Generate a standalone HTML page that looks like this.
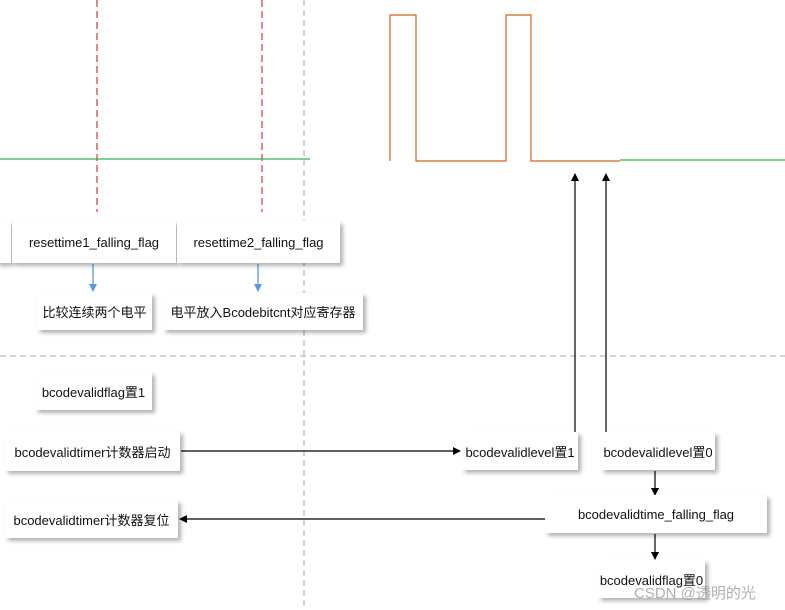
<!DOCTYPE html>
<html><head><meta charset="utf-8"><style>
body{margin:0;width:785px;height:610px;background:#fff;position:relative;overflow:hidden;font-family:"Liberation Sans","Noto Sans CJK SC",sans-serif;}
.b{position:absolute;background:#fff;box-shadow:3px 3px 4px rgba(0,0,0,0.3);font-size:13px;color:#111;display:flex;align-items:center;justify-content:center;white-space:nowrap;}
svg{position:absolute;left:0;top:0}
</style></head><body>
<svg width="785" height="610">
<defs>
<marker id="k" markerWidth="8" markerHeight="8" refX="7" refY="4" orient="auto" markerUnits="userSpaceOnUse"><path d="M0,0L8,4L0,8z" fill="#000"/></marker>
<marker id="bl" markerWidth="8" markerHeight="8" refX="7" refY="4" orient="auto" markerUnits="userSpaceOnUse"><path d="M0,0L8,4L0,8z" fill="#5b9bd5"/></marker>
</defs>
<line x1="97" y1="0" x2="97" y2="212" stroke="#e0404a" stroke-width="1.3" stroke-dasharray="7,4"/>
<line x1="262" y1="0" x2="262" y2="212" stroke="#e0404a" stroke-width="1.3" stroke-dasharray="7,4"/>
<line x1="304" y1="0" x2="304" y2="610" stroke="#aaa" stroke-width="1" stroke-dasharray="6,4"/>
<line x1="0" y1="356" x2="785" y2="356" stroke="#aaa" stroke-width="1" stroke-dasharray="6,4"/>
<line x1="0" y1="159" x2="310" y2="159" stroke="#2db84d" stroke-width="1.2"/>
<line x1="620" y1="160" x2="785" y2="160" stroke="#2db84d" stroke-width="1.2"/>
<path d="M390,161V15H416V161H506V15H531V161H620" fill="none" stroke="#d0651a" stroke-width="1.2"/>
<line x1="575" y1="432" x2="575" y2="174" stroke="#000" stroke-width="1.2" marker-end="url(#k)"/>
<line x1="606" y1="432" x2="606" y2="174" stroke="#000" stroke-width="1.2" marker-end="url(#k)"/>
<line x1="181" y1="451" x2="460" y2="451" stroke="#000" stroke-width="1.2" marker-end="url(#k)"/>
<line x1="655" y1="471" x2="655" y2="495" stroke="#000" stroke-width="1.2" marker-end="url(#k)"/>
<line x1="655" y1="534" x2="655" y2="559" stroke="#000" stroke-width="1.2" marker-end="url(#k)"/>
<line x1="548" y1="519" x2="180" y2="519" stroke="#000" stroke-width="1.2" marker-end="url(#k)"/>
<line x1="93" y1="264" x2="93" y2="291" stroke="#5b9bd5" stroke-width="1.3" marker-end="url(#bl)"/>
<line x1="258" y1="264" x2="258" y2="291" stroke="#5b9bd5" stroke-width="1.3" marker-end="url(#bl)"/>
</svg>
<div class="b" style="left:-4px;top:221px;width:15px;height:42px"></div>
<div class="b" style="left:12px;top:221px;width:164px;height:42px">resettime1_falling_flag</div>
<div class="b" style="left:177px;top:221px;width:163px;height:42px">resettime2_falling_flag</div>
<div class="b" style="left:37px;top:293px;width:115px;height:37px">比较连续两个电平</div>
<div class="b" style="left:163px;top:293px;width:200px;height:37px">电平放入Bcodebitcnt对应寄存器</div>
<div class="b" style="left:35px;top:372px;width:117px;height:38px">bcodevalidflag置1</div>
<div class="b" style="left:5px;top:431px;width:175px;height:40px">bcodevalidtimer计数器启动</div>
<div class="b" style="left:462px;top:432px;width:116px;height:38px">bcodevalidlevel置1</div>
<div class="b" style="left:601px;top:432px;width:114px;height:38px">bcodevalidlevel置0</div>
<div class="b" style="left:545px;top:495px;width:222px;height:38px">bcodevalidtime_falling_flag</div>
<div class="b" style="left:5px;top:500px;width:173px;height:38px">bcodevalidtimer计数器复位</div>
<div class="b" style="left:598px;top:560px;width:107px;height:38px">bcodevalidflag置0</div>
<div style="position:absolute;left:634px;top:582px;font-size:15px;color:rgba(150,150,150,0.75)">CSDN @透明的光</div>
</body></html>
